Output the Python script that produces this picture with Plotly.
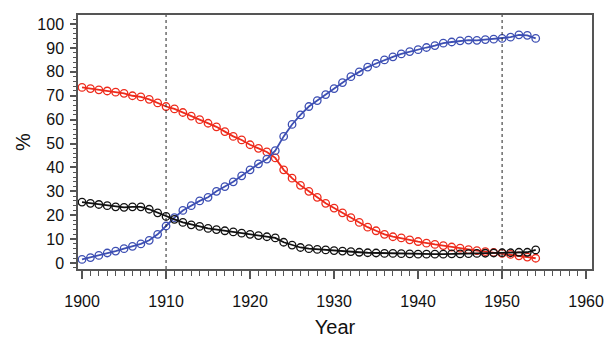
import plotly.graph_objects as go

years = list(range(1900, 1955))

red_series = [73.5, 73, 72.5, 72, 71.5, 71, 70, 69.5, 68.5, 67,
              65.5, 64.5, 63, 61.5, 60, 58.5, 57, 55, 53, 51.5,
              49.5, 48, 46.5, 44, 39, 35.5, 32.5, 30, 27.5, 25,
              23, 21, 19, 17, 15, 13.5, 12, 11, 10.5, 9.7,
              9, 8.3, 7.8, 7.3, 6.7, 6.2, 5.6, 5.2, 4.8, 4.4,
              4, 3.6, 3.0, 2.5, 2.0]

blue_series = [1.5, 2.3, 3.2, 4.2, 5, 6, 7, 8, 9.5, 12,
               15.5, 19, 22, 24, 26, 27.5, 30, 32, 34, 36.5,
               39, 41.5, 43.5, 47, 53, 58, 62, 65.5, 68, 70.5,
               73, 75.5, 78, 80, 82, 83.5, 85, 86.3, 87.5, 88.5,
               89.3, 90.2, 91, 92, 92.5, 93, 93.3, 93.2, 93.5, 93.7,
               94, 94.5, 95.5, 95.3, 94]

black_series = [25.5, 25, 24.5, 24, 23.5, 23.3, 23.5, 23.5, 22.5, 21,
                19.5, 18.3, 17, 16, 15.3, 14.5, 14, 13.5, 13, 12.5,
                12, 11.5, 11, 10.5, 8.7, 7.5, 6.5, 6, 5.7, 5.5,
                5.2, 5, 4.8, 4.5, 4.3, 4.2, 4, 4, 3.9, 3.8,
                3.7, 3.7, 3.7, 3.7, 3.8, 3.8, 3.9, 4, 4.1, 4.2,
                4.3, 4.3, 4.5, 4.5, 5.5]

x_ticks = [1900, 1910, 1920, 1930, 1940, 1950, 1960]
y_ticks = [0, 10, 20, 30, 40, 50, 60, 70, 80, 90, 100]
ref_years = [1910, 1950]

series = [
    (red_series, "#ee2b1c"),
    (blue_series, "#3d4fb3"),
    (black_series, "#111111"),
]

fig = go.Figure()
for vals, col in series:
    fig.add_trace(go.Scatter(
        x=years, y=vals, mode="lines+markers",
        line=dict(color=col, width=1.8),
        marker=dict(symbol="circle-open", size=7.5, color=col, line=dict(width=1.3, color=col)),
        showlegend=False,
    ))

for yr in ref_years:
    fig.add_shape(type="line", x0=yr, x1=yr, y0=0, y1=1, xref="x", yref="paper",
                  line=dict(color="#222222", width=1, dash="dot"))

font = dict(family="Liberation Sans, Arial, sans-serif", size=16, color="#111111")

fig.update_layout(
    width=607, height=338,
    margin=dict(l=78, r=15, t=15, b=69, autoexpand=False),
    paper_bgcolor="white", plot_bgcolor="white",
    font=font,
    xaxis=dict(
        range=[1899.52, 1960.7], tickvals=x_ticks, ticktext=[str(v) for v in x_ticks],
        showgrid=False, zeroline=False, showline=True, mirror=True,
        linecolor="#555555", linewidth=1.5,
        ticks="outside", ticklen=8, tickwidth=1.5, tickcolor="#555555",
        minor=dict(dtick=1, tick0=1900, ticks="outside", ticklen=5, tickwidth=1, tickcolor="#555555", showgrid=False),
        ticklabelstandoff=9, ticklabeloverflow="allow", automargin=False,
        title=dict(text="Year", standoff=19, font=dict(size=20)),
        tickfont=dict(size=16),
    ),
    yaxis=dict(
        range=[-2.5, 103.8], tickvals=y_ticks, ticktext=[str(v) for v in y_ticks],
        showgrid=False, zeroline=False, showline=True, mirror=True,
        linecolor="#555555", linewidth=1.5,
        ticks="outside", ticklen=6, tickwidth=1.5, tickcolor="#555555",
        minor=dict(dtick=2, tick0=0, ticks="outside", ticklen=3, tickwidth=1, tickcolor="#555555", showgrid=False),
        ticklabelstandoff=3, automargin=False,
        title=dict(text="%", standoff=1, font=dict(size=20)),
        tickfont=dict(size=16),
    ),
)

fig.write_html(
    "out.html",
    config={"displayModeBar": False},
    post_script="document.body.style.margin='0';document.body.style.overflow='hidden';",
)
